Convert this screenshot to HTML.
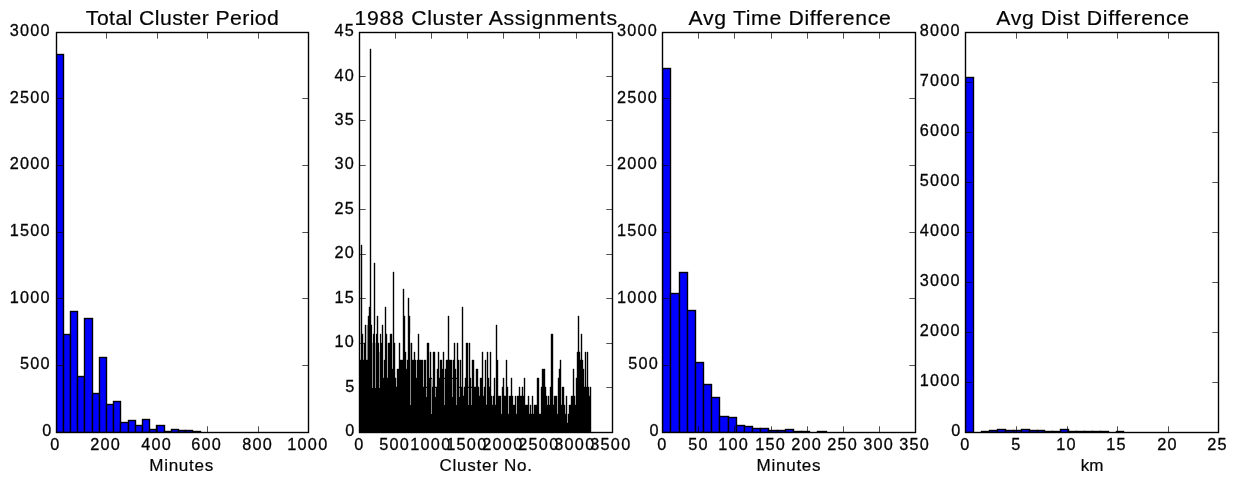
<!DOCTYPE html>
<html><head><meta charset="utf-8"><title>Cluster histograms</title>
<style>html,body{margin:0;padding:0;background:#fff}svg{display:block}</style></head>
<body>
<svg width="1237" height="484" viewBox="0 0 1237 484" font-family="Liberation Sans, sans-serif" fill="#000">
<rect width="1237" height="484" fill="#fff"/>
<clipPath id="c0"><rect x="56.20" y="32.1" width="252.7" height="400.0"/></clipPath>
<g clip-path="url(#c0)">
<rect x="56.5" y="54.5" width="7.0" height="378.0" fill="#0000ff" stroke="#000" stroke-width="1.39"/>
<rect x="63.5" y="334.5" width="7.0" height="98.0" fill="#0000ff" stroke="#000" stroke-width="1.39"/>
<rect x="70.5" y="311.5" width="7.0" height="121.0" fill="#0000ff" stroke="#000" stroke-width="1.39"/>
<rect x="77.5" y="376.5" width="7.0" height="56.0" fill="#0000ff" stroke="#000" stroke-width="1.39"/>
<rect x="84.5" y="318.5" width="8.0" height="114.0" fill="#0000ff" stroke="#000" stroke-width="1.39"/>
<rect x="92.5" y="393.5" width="7.0" height="39.0" fill="#0000ff" stroke="#000" stroke-width="1.39"/>
<rect x="99.5" y="357.5" width="7.0" height="75.0" fill="#0000ff" stroke="#000" stroke-width="1.39"/>
<rect x="106.5" y="404.5" width="7.0" height="28.0" fill="#0000ff" stroke="#000" stroke-width="1.39"/>
<rect x="113.5" y="401.5" width="7.0" height="31.0" fill="#0000ff" stroke="#000" stroke-width="1.39"/>
<rect x="120.5" y="422.5" width="8.0" height="10.0" fill="#0000ff" stroke="#000" stroke-width="1.39"/>
<rect x="128.5" y="420.5" width="7.0" height="12.0" fill="#0000ff" stroke="#000" stroke-width="1.39"/>
<rect x="135.5" y="425.5" width="7.0" height="7.0" fill="#0000ff" stroke="#000" stroke-width="1.39"/>
<rect x="142.5" y="419.5" width="7.0" height="13.0" fill="#0000ff" stroke="#000" stroke-width="1.39"/>
<rect x="149.5" y="429.5" width="7.0" height="3.0" fill="#0000ff" stroke="#000" stroke-width="1.39"/>
<rect x="156.5" y="425.5" width="8.0" height="7.0" fill="#0000ff" stroke="#000" stroke-width="1.39"/>
<rect x="164.5" y="431.5" width="7.0" height="1.0" fill="#0000ff" stroke="#000" stroke-width="1.39"/>
<rect x="171.5" y="429.5" width="7.0" height="3.0" fill="#0000ff" stroke="#000" stroke-width="1.39"/>
<rect x="178.5" y="430.5" width="7.0" height="2.0" fill="#0000ff" stroke="#000" stroke-width="1.39"/>
<rect x="185.5" y="430.5" width="7.0" height="2.0" fill="#0000ff" stroke="#000" stroke-width="1.39"/>
<rect x="192.5" y="431.5" width="8.0" height="1.0" fill="#0000ff" stroke="#000" stroke-width="1.39"/>
</g>
<clipPath id="c2"><rect x="662.72" y="32.1" width="252.7" height="400.0"/></clipPath>
<g clip-path="url(#c2)">
<rect x="662.5" y="68.5" width="8.0" height="364.0" fill="#0000ff" stroke="#000" stroke-width="1.39"/>
<rect x="670.5" y="293.5" width="9.0" height="139.0" fill="#0000ff" stroke="#000" stroke-width="1.39"/>
<rect x="679.5" y="272.5" width="8.0" height="160.0" fill="#0000ff" stroke="#000" stroke-width="1.39"/>
<rect x="687.5" y="310.5" width="8.0" height="122.0" fill="#0000ff" stroke="#000" stroke-width="1.39"/>
<rect x="695.5" y="362.5" width="8.0" height="70.0" fill="#0000ff" stroke="#000" stroke-width="1.39"/>
<rect x="703.5" y="384.5" width="8.0" height="48.0" fill="#0000ff" stroke="#000" stroke-width="1.39"/>
<rect x="711.5" y="397.5" width="8.0" height="35.0" fill="#0000ff" stroke="#000" stroke-width="1.39"/>
<rect x="719.5" y="416.5" width="9.0" height="16.0" fill="#0000ff" stroke="#000" stroke-width="1.39"/>
<rect x="728.5" y="417.5" width="8.0" height="15.0" fill="#0000ff" stroke="#000" stroke-width="1.39"/>
<rect x="736.5" y="425.5" width="8.0" height="7.0" fill="#0000ff" stroke="#000" stroke-width="1.39"/>
<rect x="744.5" y="426.5" width="8.0" height="6.0" fill="#0000ff" stroke="#000" stroke-width="1.39"/>
<rect x="752.5" y="428.5" width="8.0" height="4.0" fill="#0000ff" stroke="#000" stroke-width="1.39"/>
<rect x="760.5" y="428.5" width="8.0" height="4.0" fill="#0000ff" stroke="#000" stroke-width="1.39"/>
<rect x="768.5" y="430.5" width="9.0" height="2.0" fill="#0000ff" stroke="#000" stroke-width="1.39"/>
<rect x="777.5" y="430.5" width="8.0" height="2.0" fill="#0000ff" stroke="#000" stroke-width="1.39"/>
<rect x="785.5" y="429.5" width="8.0" height="3.0" fill="#0000ff" stroke="#000" stroke-width="1.39"/>
<rect x="793.5" y="431.5" width="8.0" height="1.0" fill="#0000ff" stroke="#000" stroke-width="1.39"/>
<rect x="801.5" y="431.5" width="8.0" height="1.0" fill="#0000ff" stroke="#000" stroke-width="1.39"/>
<rect x="817.5" y="431.5" width="9.0" height="1.0" fill="#0000ff" stroke="#000" stroke-width="1.39"/>
</g>
<clipPath id="c3"><rect x="965.98" y="32.1" width="252.7" height="400.0"/></clipPath>
<g clip-path="url(#c3)">
<rect x="965.5" y="77.5" width="8.0" height="355.0" fill="#0000ff" stroke="#000" stroke-width="1.39"/>
<rect x="981.5" y="431.5" width="8.0" height="1.0" fill="#0000ff" stroke="#000" stroke-width="1.39"/>
<rect x="989.5" y="430.5" width="8.0" height="2.0" fill="#0000ff" stroke="#000" stroke-width="1.39"/>
<rect x="997.5" y="429.5" width="8.0" height="3.0" fill="#0000ff" stroke="#000" stroke-width="1.39"/>
<rect x="1005.5" y="430.5" width="8.0" height="2.0" fill="#0000ff" stroke="#000" stroke-width="1.39"/>
<rect x="1013.5" y="430.5" width="8.0" height="2.0" fill="#0000ff" stroke="#000" stroke-width="1.39"/>
<rect x="1021.5" y="429.5" width="8.0" height="3.0" fill="#0000ff" stroke="#000" stroke-width="1.39"/>
<rect x="1029.5" y="430.5" width="8.0" height="2.0" fill="#0000ff" stroke="#000" stroke-width="1.39"/>
<rect x="1037.5" y="430.5" width="7.0" height="2.0" fill="#0000ff" stroke="#000" stroke-width="1.39"/>
<rect x="1044.5" y="431.5" width="8.0" height="1.0" fill="#0000ff" stroke="#000" stroke-width="1.39"/>
<rect x="1052.5" y="431.5" width="8.0" height="1.0" fill="#0000ff" stroke="#000" stroke-width="1.39"/>
<rect x="1060.5" y="429.5" width="8.0" height="3.0" fill="#0000ff" stroke="#000" stroke-width="1.39"/>
<rect x="1068.5" y="431.5" width="8.0" height="1.0" fill="#0000ff" stroke="#000" stroke-width="1.39"/>
<rect x="1076.5" y="431.5" width="8.0" height="1.0" fill="#0000ff" stroke="#000" stroke-width="1.39"/>
<rect x="1084.5" y="431.5" width="8.0" height="1.0" fill="#0000ff" stroke="#000" stroke-width="1.39"/>
<rect x="1092.5" y="431.5" width="8.0" height="1.0" fill="#0000ff" stroke="#000" stroke-width="1.39"/>
<rect x="1100.5" y="431.5" width="8.0" height="1.0" fill="#0000ff" stroke="#000" stroke-width="1.39"/>
<rect x="1116.5" y="431.5" width="7.0" height="1.0" fill="#0000ff" stroke="#000" stroke-width="1.39"/>
</g>
<clipPath id="c1"><rect x="359.46" y="32.1" width="252.7" height="400.0"/></clipPath>
<g clip-path="url(#c1)">
<path d="M360 432.5V360H361V245H362V334H363V360H364V343H365V325H366V360H367V360H368V316H369V307H370V49H371V325H372V343H373V334H374V263H375V343H376V334H377V316H378V343H379V352H380V334H381V343H382V325H383V378H384V360H385V307H386V334H387V378H388V343H389V343H390V334H391V334H392V369H393V272H394V343H395V378H396V387H397V369H398V369H399V343H400V360H401V360H402V360H403V289H404V316H405V352H406V369H407V360H408V298H409V316H410V343H411V343H412V360H413V360H414V352H415V360H416V378H417V360H418V334H419V360H420V360H421V360H422V360H423V387H424V360H425V360H426V387H427V343H428V343H429V378H430V352H431V378H432V387H433V352H434V352H435V387H436V387H437V369H438V352H439V378H440V360H441V360H442V369H443V352H444V378H445V369H446V360H447V360H448V316H449V360H450V360H451V360H452V378H453V360H454V343H455V369H456V378H457V343H458V360H459V387H460V360H461V387H462V307H463V396H464V387H465V378H466V343H467V343H468V387H469V343H470V378H471V387H472V360H473V360H474V387H475V387H476V369H477V369H478V387H479V396H480V378H481V378H482V352H483V396H484V387H485V360H486V405H487V352H488V378H489V387H490V352H491V396H492V405H493V396H494V378H495V405H496V325H497V360H498V396H499V396H500V396H501V414H502V387H503V378H504V396H505V396H506V360H507V387H508V414H509V396H510V396H511V378H512V396H513V405H514V405H515V396H516V414H517V396H518V396H519V387H520V396H521V396H522V387H523V396H524V378H525V405H526V405H527V405H528V396H529V414H530V405H531V414H532V396H533V414H534V405H535V405H536V405H537V378H538V378H539V414H540V414H541V387H542V369H543V369H544V369H545V387H546V396H547V405H548V396H549V405H550V387H551V334H552V334H553V405H554V396H555V396H556V396H557V414H558V378H559V369H560V360H561V405H562V387H563V387H564V405H565V414H566V396H567V423H568V414H569V405H570V405H571V396H572V396H573V369H574V396H575V405H576V378H577V352H578V316H579V352H580V360H581V334H582V360H583V369H584V387H585V352H586V387H587V352H588V387H589V396H590V387H591V432.5Z" fill="#000" stroke="#000" stroke-width="0.39" stroke-linejoin="miter"/>
<path d="M372.5 325V388M375.5 325V388M379.5 334V388M410.5 334V405M426.5 388V397M431.5 379V414M435.5 388V397M444.5 379V405M452.5 379V397M456.5 379V405M459.5 388V397M468.5 388V405M471.5 388V405" stroke="#fff" stroke-width="0.55" fill="none"/>
<path d="M367.3 325V360" stroke="#000" stroke-width="0.5" fill="none"/>
</g>
<path d="M56.5 432.5V426.30M56.5 32.5V38.70" stroke="#000" stroke-width="0.69" fill="none"/>
<path d="M106.5 432.5V426.30M106.5 32.5V38.70" stroke="#000" stroke-width="0.69" fill="none"/>
<path d="M157.5 432.5V426.30M157.5 32.5V38.70" stroke="#000" stroke-width="0.69" fill="none"/>
<path d="M207.5 432.5V426.30M207.5 32.5V38.70" stroke="#000" stroke-width="0.69" fill="none"/>
<path d="M258.5 432.5V426.30M258.5 32.5V38.70" stroke="#000" stroke-width="0.69" fill="none"/>
<path d="M308.5 432.5V426.30M308.5 32.5V38.70" stroke="#000" stroke-width="0.69" fill="none"/>
<path d="M56.5 432.5H62.70M308.5 432.5H302.30" stroke="#000" stroke-width="0.69" fill="none"/>
<path d="M56.5 365.5H62.70M308.5 365.5H302.30" stroke="#000" stroke-width="0.69" fill="none"/>
<path d="M56.5 298.5H62.70M308.5 298.5H302.30" stroke="#000" stroke-width="0.69" fill="none"/>
<path d="M56.5 232.5H62.70M308.5 232.5H302.30" stroke="#000" stroke-width="0.69" fill="none"/>
<path d="M56.5 165.5H62.70M308.5 165.5H302.30" stroke="#000" stroke-width="0.69" fill="none"/>
<path d="M56.5 98.5H62.70M308.5 98.5H302.30" stroke="#000" stroke-width="0.69" fill="none"/>
<path d="M56.5 32.5H62.70M308.5 32.5H302.30" stroke="#000" stroke-width="0.69" fill="none"/>
<rect x="56.5" y="32.5" width="252.0" height="400.0" fill="none" stroke="#000" stroke-width="1.39"/>
<path d="M359.5 432.5V426.30M359.5 32.5V38.70" stroke="#000" stroke-width="0.69" fill="none"/>
<path d="M395.5 432.5V426.30M395.5 32.5V38.70" stroke="#000" stroke-width="0.69" fill="none"/>
<path d="M431.5 432.5V426.30M431.5 32.5V38.70" stroke="#000" stroke-width="0.69" fill="none"/>
<path d="M467.5 432.5V426.30M467.5 32.5V38.70" stroke="#000" stroke-width="0.69" fill="none"/>
<path d="M503.5 432.5V426.30M503.5 32.5V38.70" stroke="#000" stroke-width="0.69" fill="none"/>
<path d="M539.5 432.5V426.30M539.5 32.5V38.70" stroke="#000" stroke-width="0.69" fill="none"/>
<path d="M576.5 432.5V426.30M576.5 32.5V38.70" stroke="#000" stroke-width="0.69" fill="none"/>
<path d="M612.5 432.5V426.30M612.5 32.5V38.70" stroke="#000" stroke-width="0.69" fill="none"/>
<path d="M359.5 432.5H365.70M612.5 432.5H606.30" stroke="#000" stroke-width="0.69" fill="none"/>
<path d="M359.5 387.5H365.70M612.5 387.5H606.30" stroke="#000" stroke-width="0.69" fill="none"/>
<path d="M359.5 343.5H365.70M612.5 343.5H606.30" stroke="#000" stroke-width="0.69" fill="none"/>
<path d="M359.5 298.5H365.70M612.5 298.5H606.30" stroke="#000" stroke-width="0.69" fill="none"/>
<path d="M359.5 254.5H365.70M612.5 254.5H606.30" stroke="#000" stroke-width="0.69" fill="none"/>
<path d="M359.5 209.5H365.70M612.5 209.5H606.30" stroke="#000" stroke-width="0.69" fill="none"/>
<path d="M359.5 165.5H365.70M612.5 165.5H606.30" stroke="#000" stroke-width="0.69" fill="none"/>
<path d="M359.5 120.5H365.70M612.5 120.5H606.30" stroke="#000" stroke-width="0.69" fill="none"/>
<path d="M359.5 76.5H365.70M612.5 76.5H606.30" stroke="#000" stroke-width="0.69" fill="none"/>
<path d="M359.5 32.5H365.70M612.5 32.5H606.30" stroke="#000" stroke-width="0.69" fill="none"/>
<rect x="359.5" y="32.5" width="253.0" height="400.0" fill="none" stroke="#000" stroke-width="1.39"/>
<path d="M662.5 432.5V426.30M662.5 32.5V38.70" stroke="#000" stroke-width="0.69" fill="none"/>
<path d="M698.5 432.5V426.30M698.5 32.5V38.70" stroke="#000" stroke-width="0.69" fill="none"/>
<path d="M734.5 432.5V426.30M734.5 32.5V38.70" stroke="#000" stroke-width="0.69" fill="none"/>
<path d="M771.5 432.5V426.30M771.5 32.5V38.70" stroke="#000" stroke-width="0.69" fill="none"/>
<path d="M807.5 432.5V426.30M807.5 32.5V38.70" stroke="#000" stroke-width="0.69" fill="none"/>
<path d="M843.5 432.5V426.30M843.5 32.5V38.70" stroke="#000" stroke-width="0.69" fill="none"/>
<path d="M879.5 432.5V426.30M879.5 32.5V38.70" stroke="#000" stroke-width="0.69" fill="none"/>
<path d="M915.5 432.5V426.30M915.5 32.5V38.70" stroke="#000" stroke-width="0.69" fill="none"/>
<path d="M662.5 432.5H668.70M915.5 432.5H909.30" stroke="#000" stroke-width="0.69" fill="none"/>
<path d="M662.5 365.5H668.70M915.5 365.5H909.30" stroke="#000" stroke-width="0.69" fill="none"/>
<path d="M662.5 298.5H668.70M915.5 298.5H909.30" stroke="#000" stroke-width="0.69" fill="none"/>
<path d="M662.5 232.5H668.70M915.5 232.5H909.30" stroke="#000" stroke-width="0.69" fill="none"/>
<path d="M662.5 165.5H668.70M915.5 165.5H909.30" stroke="#000" stroke-width="0.69" fill="none"/>
<path d="M662.5 98.5H668.70M915.5 98.5H909.30" stroke="#000" stroke-width="0.69" fill="none"/>
<path d="M662.5 32.5H668.70M915.5 32.5H909.30" stroke="#000" stroke-width="0.69" fill="none"/>
<rect x="662.5" y="32.5" width="253.0" height="400.0" fill="none" stroke="#000" stroke-width="1.39"/>
<path d="M965.5 432.5V426.30M965.5 32.5V38.70" stroke="#000" stroke-width="0.69" fill="none"/>
<path d="M1016.5 432.5V426.30M1016.5 32.5V38.70" stroke="#000" stroke-width="0.69" fill="none"/>
<path d="M1067.5 432.5V426.30M1067.5 32.5V38.70" stroke="#000" stroke-width="0.69" fill="none"/>
<path d="M1117.5 432.5V426.30M1117.5 32.5V38.70" stroke="#000" stroke-width="0.69" fill="none"/>
<path d="M1168.5 432.5V426.30M1168.5 32.5V38.70" stroke="#000" stroke-width="0.69" fill="none"/>
<path d="M1218.5 432.5V426.30M1218.5 32.5V38.70" stroke="#000" stroke-width="0.69" fill="none"/>
<path d="M965.5 432.5H971.70M1218.5 432.5H1212.30" stroke="#000" stroke-width="0.69" fill="none"/>
<path d="M965.5 382.5H971.70M1218.5 382.5H1212.30" stroke="#000" stroke-width="0.69" fill="none"/>
<path d="M965.5 332.5H971.70M1218.5 332.5H1212.30" stroke="#000" stroke-width="0.69" fill="none"/>
<path d="M965.5 282.5H971.70M1218.5 282.5H1212.30" stroke="#000" stroke-width="0.69" fill="none"/>
<path d="M965.5 232.5H971.70M1218.5 232.5H1212.30" stroke="#000" stroke-width="0.69" fill="none"/>
<path d="M965.5 182.5H971.70M1218.5 182.5H1212.30" stroke="#000" stroke-width="0.69" fill="none"/>
<path d="M965.5 132.5H971.70M1218.5 132.5H1212.30" stroke="#000" stroke-width="0.69" fill="none"/>
<path d="M965.5 82.5H971.70M1218.5 82.5H1212.30" stroke="#000" stroke-width="0.69" fill="none"/>
<path d="M965.5 32.5H971.70M1218.5 32.5H1212.30" stroke="#000" stroke-width="0.69" fill="none"/>
<rect x="965.5" y="32.5" width="253.0" height="400.0" fill="none" stroke="#000" stroke-width="1.39"/>
<g opacity="0.99"><text transform="translate(50.25 450.00) scale(1.0 1)" font-size="16.25" text-anchor="start" letter-spacing="1.265" stroke="#000" stroke-width="0.3">0</text>
<text transform="translate(90.25 450.00) scale(1.0 1)" font-size="16.25" text-anchor="start" letter-spacing="1.265" stroke="#000" stroke-width="0.3">200</text>
<text transform="translate(141.25 450.00) scale(1.0 1)" font-size="16.25" text-anchor="start" letter-spacing="1.265" stroke="#000" stroke-width="0.3">400</text>
<text transform="translate(191.25 450.00) scale(1.0 1)" font-size="16.25" text-anchor="start" letter-spacing="1.265" stroke="#000" stroke-width="0.3">600</text>
<text transform="translate(242.25 450.00) scale(1.0 1)" font-size="16.25" text-anchor="start" letter-spacing="1.265" stroke="#000" stroke-width="0.3">800</text>
<text transform="translate(287.25 450.00) scale(1.0 1)" font-size="16.25" text-anchor="start" letter-spacing="1.265" stroke="#000" stroke-width="0.3">1000</text>
<text transform="translate(42.23 436.15) scale(1.0 1)" font-size="16.25" text-anchor="start" letter-spacing="1.265" stroke="#000" stroke-width="0.3">0</text>
<text transform="translate(19.93 369.15) scale(1.0 1)" font-size="16.25" text-anchor="start" letter-spacing="1.265" stroke="#000" stroke-width="0.3">500</text>
<text transform="translate(9.63 303.15) scale(1.0 1)" font-size="16.25" text-anchor="start" letter-spacing="1.265" stroke="#000" stroke-width="0.3">1000</text>
<text transform="translate(9.63 236.15) scale(1.0 1)" font-size="16.25" text-anchor="start" letter-spacing="1.265" stroke="#000" stroke-width="0.3">1500</text>
<text transform="translate(9.63 169.15) scale(1.0 1)" font-size="16.25" text-anchor="start" letter-spacing="1.265" stroke="#000" stroke-width="0.3">2000</text>
<text transform="translate(9.63 103.15) scale(1.0 1)" font-size="16.25" text-anchor="start" letter-spacing="1.265" stroke="#000" stroke-width="0.3">2500</text>
<text transform="translate(9.63 36.15) scale(1.0 1)" font-size="16.25" text-anchor="start" letter-spacing="1.265" stroke="#000" stroke-width="0.3">3000</text>
<text transform="translate(182.35 24.70) scale(1.05 1)" font-size="20.2" text-anchor="middle" textLength="183.81" lengthAdjust="spacing" stroke="#000" stroke-width="0.2">Total Cluster Period</text>
<text transform="translate(181.25 470.75) scale(1.05 1)" font-size="16.25" text-anchor="middle" textLength="60.95" lengthAdjust="spacing" stroke="#000" stroke-width="0.2">Minutes</text>
<text transform="translate(354.25 450.00) scale(1.0 1)" font-size="16.25" text-anchor="start" letter-spacing="1.265" stroke="#000" stroke-width="0.3">0</text>
<text transform="translate(379.25 450.00) scale(1.0 1)" font-size="16.25" text-anchor="start" letter-spacing="1.265" stroke="#000" stroke-width="0.3">500</text>
<text transform="translate(410.25 450.00) scale(1.0 1)" font-size="16.25" text-anchor="start" letter-spacing="1.265" stroke="#000" stroke-width="0.3">1000</text>
<text transform="translate(446.25 450.00) scale(1.0 1)" font-size="16.25" text-anchor="start" letter-spacing="1.265" stroke="#000" stroke-width="0.3">1500</text>
<text transform="translate(482.25 450.00) scale(1.0 1)" font-size="16.25" text-anchor="start" letter-spacing="1.265" stroke="#000" stroke-width="0.3">2000</text>
<text transform="translate(518.25 450.00) scale(1.0 1)" font-size="16.25" text-anchor="start" letter-spacing="1.265" stroke="#000" stroke-width="0.3">2500</text>
<text transform="translate(554.25 450.00) scale(1.0 1)" font-size="16.25" text-anchor="start" letter-spacing="1.265" stroke="#000" stroke-width="0.3">3000</text>
<text transform="translate(590.25 450.00) scale(1.0 1)" font-size="16.25" text-anchor="start" letter-spacing="1.265" stroke="#000" stroke-width="0.3">3500</text>
<text transform="translate(345.23 436.15) scale(1.0 1)" font-size="16.25" text-anchor="start" letter-spacing="1.265" stroke="#000" stroke-width="0.3">0</text>
<text transform="translate(345.23 392.15) scale(1.0 1)" font-size="16.25" text-anchor="start" letter-spacing="1.265" stroke="#000" stroke-width="0.3">5</text>
<text transform="translate(334.43 347.15) scale(1.0 1)" font-size="16.25" text-anchor="start" letter-spacing="1.265" stroke="#000" stroke-width="0.3">10</text>
<text transform="translate(334.43 303.15) scale(1.0 1)" font-size="16.25" text-anchor="start" letter-spacing="1.265" stroke="#000" stroke-width="0.3">15</text>
<text transform="translate(334.43 258.15) scale(1.0 1)" font-size="16.25" text-anchor="start" letter-spacing="1.265" stroke="#000" stroke-width="0.3">20</text>
<text transform="translate(334.43 214.15) scale(1.0 1)" font-size="16.25" text-anchor="start" letter-spacing="1.265" stroke="#000" stroke-width="0.3">25</text>
<text transform="translate(334.43 169.15) scale(1.0 1)" font-size="16.25" text-anchor="start" letter-spacing="1.265" stroke="#000" stroke-width="0.3">30</text>
<text transform="translate(334.43 125.15) scale(1.0 1)" font-size="16.25" text-anchor="start" letter-spacing="1.265" stroke="#000" stroke-width="0.3">35</text>
<text transform="translate(334.43 81.15) scale(1.0 1)" font-size="16.25" text-anchor="start" letter-spacing="1.265" stroke="#000" stroke-width="0.3">40</text>
<text transform="translate(334.43 36.15) scale(1.0 1)" font-size="16.25" text-anchor="start" letter-spacing="1.265" stroke="#000" stroke-width="0.3">45</text>
<text transform="translate(485.81 24.70) scale(1.05 1)" font-size="20.2" text-anchor="middle" textLength="250.00" lengthAdjust="spacing" stroke="#000" stroke-width="0.2">1988 Cluster Assignments</text>
<text transform="translate(485.81 470.75) scale(1.05 1)" font-size="16.25" text-anchor="middle" textLength="88.10" lengthAdjust="spacing" stroke="#000" stroke-width="0.2">Cluster No.</text>
<text transform="translate(657.25 450.00) scale(1.0 1)" font-size="16.25" text-anchor="start" letter-spacing="1.265" stroke="#000" stroke-width="0.3">0</text>
<text transform="translate(688.25 450.00) scale(1.0 1)" font-size="16.25" text-anchor="start" letter-spacing="1.265" stroke="#000" stroke-width="0.3">50</text>
<text transform="translate(718.25 450.00) scale(1.0 1)" font-size="16.25" text-anchor="start" letter-spacing="1.265" stroke="#000" stroke-width="0.3">100</text>
<text transform="translate(755.25 450.00) scale(1.0 1)" font-size="16.25" text-anchor="start" letter-spacing="1.265" stroke="#000" stroke-width="0.3">150</text>
<text transform="translate(791.25 450.00) scale(1.0 1)" font-size="16.25" text-anchor="start" letter-spacing="1.265" stroke="#000" stroke-width="0.3">200</text>
<text transform="translate(827.25 450.00) scale(1.0 1)" font-size="16.25" text-anchor="start" letter-spacing="1.265" stroke="#000" stroke-width="0.3">250</text>
<text transform="translate(863.25 450.00) scale(1.0 1)" font-size="16.25" text-anchor="start" letter-spacing="1.265" stroke="#000" stroke-width="0.3">300</text>
<text transform="translate(899.25 450.00) scale(1.0 1)" font-size="16.25" text-anchor="start" letter-spacing="1.265" stroke="#000" stroke-width="0.3">350</text>
<text transform="translate(649.53 436.15) scale(1.0 1)" font-size="16.25" text-anchor="start" letter-spacing="1.265" stroke="#000" stroke-width="0.3">0</text>
<text transform="translate(628.23 369.15) scale(1.0 1)" font-size="16.25" text-anchor="start" letter-spacing="1.265" stroke="#000" stroke-width="0.3">500</text>
<text transform="translate(616.93 303.15) scale(1.0 1)" font-size="16.25" text-anchor="start" letter-spacing="1.265" stroke="#000" stroke-width="0.3">1000</text>
<text transform="translate(616.93 236.15) scale(1.0 1)" font-size="16.25" text-anchor="start" letter-spacing="1.265" stroke="#000" stroke-width="0.3">1500</text>
<text transform="translate(616.93 169.15) scale(1.0 1)" font-size="16.25" text-anchor="start" letter-spacing="1.265" stroke="#000" stroke-width="0.3">2000</text>
<text transform="translate(616.93 103.15) scale(1.0 1)" font-size="16.25" text-anchor="start" letter-spacing="1.265" stroke="#000" stroke-width="0.3">2500</text>
<text transform="translate(616.93 36.15) scale(1.0 1)" font-size="16.25" text-anchor="start" letter-spacing="1.265" stroke="#000" stroke-width="0.3">3000</text>
<text transform="translate(789.67 24.70) scale(1.05 1)" font-size="20.2" text-anchor="middle" textLength="192.67" lengthAdjust="spacing" stroke="#000" stroke-width="0.2">Avg Time Difference</text>
<text transform="translate(788.57 470.75) scale(1.05 1)" font-size="16.25" text-anchor="middle" textLength="60.95" lengthAdjust="spacing" stroke="#000" stroke-width="0.2">Minutes</text>
<text transform="translate(960.25 450.00) scale(1.0 1)" font-size="16.25" text-anchor="start" letter-spacing="1.265" stroke="#000" stroke-width="0.3">0</text>
<text transform="translate(1011.25 450.00) scale(1.0 1)" font-size="16.25" text-anchor="start" letter-spacing="1.265" stroke="#000" stroke-width="0.3">5</text>
<text transform="translate(1056.25 450.00) scale(1.0 1)" font-size="16.25" text-anchor="start" letter-spacing="1.265" stroke="#000" stroke-width="0.3">10</text>
<text transform="translate(1106.25 450.00) scale(1.0 1)" font-size="16.25" text-anchor="start" letter-spacing="1.265" stroke="#000" stroke-width="0.3">15</text>
<text transform="translate(1157.25 450.00) scale(1.0 1)" font-size="16.25" text-anchor="start" letter-spacing="1.265" stroke="#000" stroke-width="0.3">20</text>
<text transform="translate(1207.25 450.00) scale(1.0 1)" font-size="16.25" text-anchor="start" letter-spacing="1.265" stroke="#000" stroke-width="0.3">25</text>
<text transform="translate(951.23 436.15) scale(1.0 1)" font-size="16.25" text-anchor="start" letter-spacing="1.265" stroke="#000" stroke-width="0.3">0</text>
<text transform="translate(919.63 386.15) scale(1.0 1)" font-size="16.25" text-anchor="start" letter-spacing="1.265" stroke="#000" stroke-width="0.3">1000</text>
<text transform="translate(919.63 336.15) scale(1.0 1)" font-size="16.25" text-anchor="start" letter-spacing="1.265" stroke="#000" stroke-width="0.3">2000</text>
<text transform="translate(919.63 286.15) scale(1.0 1)" font-size="16.25" text-anchor="start" letter-spacing="1.265" stroke="#000" stroke-width="0.3">3000</text>
<text transform="translate(919.63 236.15) scale(1.0 1)" font-size="16.25" text-anchor="start" letter-spacing="1.265" stroke="#000" stroke-width="0.3">4000</text>
<text transform="translate(919.63 186.15) scale(1.0 1)" font-size="16.25" text-anchor="start" letter-spacing="1.265" stroke="#000" stroke-width="0.3">5000</text>
<text transform="translate(919.63 136.15) scale(1.0 1)" font-size="16.25" text-anchor="start" letter-spacing="1.265" stroke="#000" stroke-width="0.3">6000</text>
<text transform="translate(919.63 86.15) scale(1.0 1)" font-size="16.25" text-anchor="start" letter-spacing="1.265" stroke="#000" stroke-width="0.3">7000</text>
<text transform="translate(919.63 36.15) scale(1.0 1)" font-size="16.25" text-anchor="start" letter-spacing="1.265" stroke="#000" stroke-width="0.3">8000</text>
<text transform="translate(1092.73 24.70) scale(1.05 1)" font-size="20.2" text-anchor="middle" textLength="183.62" lengthAdjust="spacing" stroke="#000" stroke-width="0.2">Avg Dist Difference</text>
<text transform="translate(1092.03 470.75) scale(1.05 1)" font-size="16.25" text-anchor="middle" stroke="#000" stroke-width="0.2">km</text></g>
</svg>
</body></html>
